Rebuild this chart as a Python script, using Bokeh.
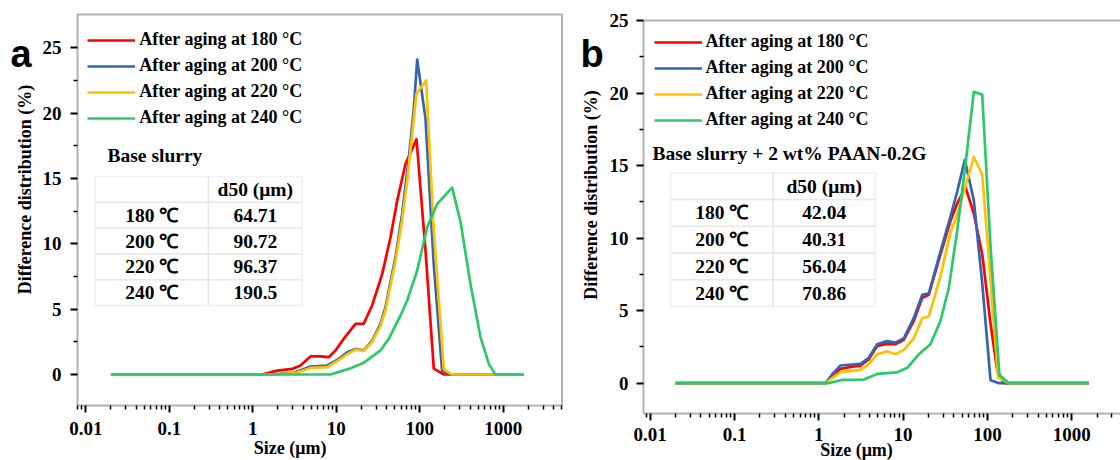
import math
from bokeh.plotting import figure
from bokeh.models import (Range1d, FixedTicker, CustomJSTickFormatter, LogScale, LinearScale,
                          Legend, LegendItem, Label, BoxAnnotation, LinearAxis, LogAxis)
from bokeh.embed import file_html
from bokeh.resources import INLINE

# ---------------- data ----------------
series_labels = ["After aging at 180 °C", "After aging at 200 °C",
                 "After aging at 220 °C", "After aging at 240 °C"]
series_colors = ["#FF0000", "#3664AD", "#FFC000", "#2DC86A"]

# panel a : base slurry
a_red_x = [0.02, 1.29, 1.96, 2.96, 3.72, 4.91, 6.47, 8.13, 9.78, 12.5, 17.0, 21.3, 26.9, 35.5, 44.6, 53.6, 67.4, 91.3, 117, 147, 194, 1740]
a_red_y = [0, 0, 0.30, 0.43, 0.69, 1.38, 1.38, 1.33, 1.84, 2.80, 3.88, 3.88, 5.30, 7.70, 10.5, 13.3, 16.1, 18.0, 9.5, 0.45, 0, 0]
a_blue_x = [0.02, 1.6, 3.2, 4.91, 7.8, 10.7, 13.5, 17.0, 21.3, 26.9, 33.8, 38.8, 51.2, 61.5, 74.0, 85.0, 93.0, 117, 147, 185, 233, 1740]
a_blue_y = [0, 0, 0.15, 0.61, 0.69, 1.20, 1.70, 1.96, 1.84, 2.60, 3.88, 5.15, 9.0, 12.3, 16.6, 20.4, 24.1, 19.6, 8.4, 0.3, 0, 0]
a_yellow_x = [0.02, 1.6, 3.2, 4.91, 7.8, 10.7, 13.5, 17.0, 21.3, 26.9, 33.8, 38.8, 51.2, 61.5, 70.6, 91.3, 119, 147, 194, 244, 1740]
a_yellow_y = [0, 0, 0.10, 0.50, 0.56, 1.10, 1.55, 1.90, 1.80, 2.50, 3.70, 4.90, 8.70, 11.8, 14.8, 21.5, 22.5, 11.0, 0.4, 0, 0]
a_green_x = [0.02, 8.5, 14.1, 21.3, 33.8, 42.5, 58.6, 70.6, 93.0, 123, 162, 244, 307, 405, 533, 671, 807, 1740]
a_green_y = [0, 0, 0.43, 0.89, 1.84, 2.73, 4.50, 5.66, 7.96, 11.3, 13.06, 14.3, 11.7, 6.9, 2.86, 0.81, 0, 0]

# panel b : base slurry + 2 wt% PAAN-0.2G
b_red_x = [0.02, 1.2, 1.44, 1.81, 2.6, 3.12, 3.92, 4.93, 6.19, 8.1, 10.2, 13.4, 16.9, 20.2, 27.8, 36.5, 43.8, 55.0, 69.0, 86.8, 109, 131, 157, 1600]
b_red_y = [0, 0, 0.53, 0.99, 1.15, 1.20, 1.66, 2.57, 2.69, 2.69, 3.0, 4.3, 5.9, 6.1, 8.9, 11.2, 12.4, 13.5, 11.7, 8.9, 4.1, 0.87, 0, 0]
b_blue_x = [0.02, 1.2, 1.44, 1.81, 3.12, 3.92, 4.93, 6.4, 8.1, 10.2, 13.4, 16.9, 20.2, 27.8, 36.5, 43.8, 54.0, 69.0, 86.8, 109, 138, 1600]
b_blue_y = [0, 0, 0.6, 1.22, 1.33, 1.75, 2.69, 2.9, 2.8, 3.1, 4.5, 6.1, 6.2, 9.1, 11.5, 13.2, 15.4, 12.6, 6.9, 0.2, 0, 0]
b_yellow_x = [0.02, 1.2, 1.44, 1.81, 3.12, 3.92, 4.93, 6.4, 8.1, 10.2, 13.4, 16.9, 20.2, 27.8, 36.5, 43.8, 55.0, 69.0, 86.8, 134, 180, 1600]
b_yellow_y = [0, 0, 0.35, 0.76, 0.92, 1.3, 2.0, 2.2, 2.0, 2.3, 3.1, 4.5, 4.6, 7.4, 10.4, 11.6, 13.6, 15.6, 14.4, 0.4, 0, 0]
b_green_x = [0.02, 1.3, 1.9, 3.42, 4.93, 8.5, 11.2, 15.4, 21.1, 27.8, 34.9, 43.8, 55.0, 69.0, 86.8, 109, 139, 180, 1600]
b_green_y = [0, 0, 0.23, 0.25, 0.64, 0.75, 1.06, 2.0, 2.69, 4.3, 6.6, 10.5, 15.1, 20.1, 19.9, 9.4, 0.56, 0, 0]

x_major_ticks = [0.01, 0.1, 1, 10, 100, 1000]
y_major_ticks = [0, 5, 10, 15, 20, 25]
y_minor_ticks = [2.5, 7.5, 12.5, 17.5, 22.5]

table_header = "d50 (μm)"
table_temps = ["180 ℃", "200 ℃", "220 ℃", "240 ℃"]
d50_a = ["64.71", "90.72", "96.37", "190.5"]
d50_b = ["42.04", "40.31", "56.04", "70.86"]

x_axis_title = "Size (μm)"
y_axis_title = "Difference distribution (%)"

# ---------------- layout (canvas pixels, y measured from the top) ----------------
W, H = 1120, 460
SERIF = "Liberation Serif"
SANS = "Liberation Sans"

PANELS = {
    "a": dict(px_one=252.3, px_decade=83.5, py_zero=374.0, py_unit=13.07,
              frame=(77, 561.5, 14, 405), xstand=9, ystand=9,
              legend=(87.3, 40.7), table=(94.6, 207.9, 301.8, 176.0, 25.8),
              caption=(107, 155), ytitle=(24.3, 189), xtitle=(289.7, 447.3), letter=(10, 53)),
    "b": dict(px_one=818.3, px_decade=84.3, py_zero=382.7, py_unit=14.5,
              frame=(643, 1130, 20, 413), xstand=7, ystand=8,
              legend=(653.6, 42.7), table=(670.0, 772.5, 875.0, 172.3, 26.74),
              caption=(652, 152.7), ytitle=(590, 194.5), xtitle=(856, 449.3), letter=(580, 53)),
}


def sy(cy):
    """canvas y (from top) -> screen y used by bokeh annotations (from bottom)"""
    return H - cy


def txt(cx, cy, text, size, align="left", baseline="middle", font=SERIF, angle=0.0):
    return Label(x=cx, y=sy(cy), x_units="screen", y_units="screen", text=text,
                 text_font=font, text_font_style="bold", text_font_size=size,
                 text_color="black", text_align=align, text_baseline=baseline, angle=angle)


p = figure(width=W, height=H, x_axis_type="log", x_axis_location=None, y_axis_location=None,
           x_range=Range1d(1, 10), y_range=Range1d(0, 1), title=None,
           output_backend="svg", toolbar_location=None,
           min_border=0, min_border_left=0, min_border_right=0, min_border_top=0, min_border_bottom=0)
p.background_fill_color = "white"
p.border_fill_color = "white"
p.outline_line_color = None
p.xgrid.visible = False
p.ygrid.visible = False

series_data = {
    "a": [(a_red_x, a_red_y), (a_blue_x, a_blue_y), (a_yellow_x, a_yellow_y), (a_green_x, a_green_y)],
    "b": [(b_red_x, b_red_y), (b_blue_x, b_blue_y), (b_yellow_x, b_yellow_y), (b_green_x, b_green_y)],
}
d50s = {"a": d50_a, "b": d50_b}
captions = {"a": "Base slurry", "b": "Base slurry + 2 wt% PAAN-0.2G"}

for key, g in PANELS.items():
    xn, yn = "x" + key, "y" + key
    c1, dec, c0, unit = g["px_one"], g["px_decade"], g["py_zero"], g["py_unit"]
    to_x = lambda cx: 10 ** ((cx - c1) / dec)
    to_y = lambda cy: (c0 - cy) / unit
    p.extra_x_ranges[xn] = Range1d(to_x(0), to_x(W))
    p.extra_x_scales[xn] = LogScale()
    p.extra_y_ranges[yn] = Range1d(to_y(H), to_y(0))
    p.extra_y_scales[yn] = LinearScale()

    fl, fr, ft, fb = g["frame"]
    x_lo, x_hi = to_x(fl), to_x(min(fr, W))
    y_lo, y_hi = to_y(fb), to_y(ft)

    # frame box
    p.add_layout(BoxAnnotation(left=fl, right=fr, top=sy(ft), bottom=sy(fb),
                               left_units="screen", right_units="screen",
                               top_units="screen", bottom_units="screen",
                               fill_color=None, fill_alpha=0,
                               line_color="black", line_width=2))

    minor_x = [m * 10.0 ** k for k in range(-3, 4) for m in range(2, 10) if x_lo < m * 10.0 ** k < x_hi]
    xax = LogAxis(x_range_name=xn, y_range_name=yn, fixed_location=y_lo,
                  ticker=FixedTicker(ticks=x_major_ticks, minor_ticks=minor_x),
                  formatter=CustomJSTickFormatter(code="return tick >= 1 ? tick.toFixed(0) : tick.toPrecision(1);"),
                  major_label_standoff=g["xstand"])
    yax = LinearAxis(x_range_name=xn, y_range_name=yn, fixed_location=x_lo,
                     ticker=FixedTicker(ticks=y_major_ticks, minor_ticks=y_minor_ticks),
                     major_label_standoff=g["ystand"])
    for ax in (xax, yax):
        ax.axis_line_color = None
        ax.major_tick_line_color = "black"
        ax.minor_tick_line_color = "black"
        ax.major_tick_line_width = 2
        ax.minor_tick_line_width = 1.5
        ax.major_tick_out = 7
        ax.major_tick_in = 0
        ax.minor_tick_out = 4
        ax.minor_tick_in = 0
        ax.major_label_text_font = SERIF
        ax.major_label_text_font_style = "bold"
        ax.major_label_text_font_size = "19px"
        ax.major_label_text_color = "black"
    p.add_layout(xax, "below")
    p.add_layout(yax, "left")

    items = []
    for (xs, ys), lab, col in zip(series_data[key], series_labels, series_colors):
        r = p.line(xs, ys, x_range_name=xn, y_range_name=yn,
                   line_width=2.7, color=col, line_join="round")
        items.append(LegendItem(label=lab, renderers=[r]))

    lgx, row1 = g["legend"]
    legend = Legend(items=items, location=(lgx, 372.5 - row1), border_line_color=None,
                    background_fill_alpha=0, label_text_font=SERIF,
                    label_text_font_style="bold", label_text_font_size="18px",
                    label_text_color="black",
                    glyph_width=48, glyph_height=20, label_height=20,
                    label_standoff=4, spacing=5, padding=0, margin=0)
    p.add_layout(legend)

    # d50 table
    tx0, tx1, tx2, ttop, rh = g["table"]
    cells = [[" ", table_header]] + [[t, v] for t, v in zip(table_temps, d50s[key])]
    for i, (t1, t2) in enumerate(cells):
        top_ = ttop + i * rh
        bot = top_ + rh
        for (xa, xb, t) in ((tx0, tx1, t1), (tx1, tx2, t2)):
            p.add_layout(BoxAnnotation(left=xa, right=xb, top=sy(top_), bottom=sy(bot),
                                       left_units="screen", right_units="screen",
                                       top_units="screen", bottom_units="screen",
                                       fill_color=None, fill_alpha=0,
                                       line_color="#D2D2D2", line_width=1.5))
            if t.strip():
                p.add_layout(txt((xa + xb) / 2, (top_ + bot) / 2, t, "19.5px", align="center"))

    cx, cy = g["caption"]
    p.add_layout(txt(cx, cy, captions[key], "19.5px"))
    yx, yy = g["ytitle"]
    p.add_layout(txt(yx, yy, y_axis_title, "18px", align="center", angle=math.pi / 2))
    xx, xy = g["xtitle"]
    p.add_layout(txt(xx, xy, x_axis_title, "18px", align="center"))
    lx, ly = g["letter"]
    p.add_layout(txt(lx, ly, key, "38px", baseline="alphabetic", font=SANS))

open("out.html", "w").write(file_html(p, INLINE))
